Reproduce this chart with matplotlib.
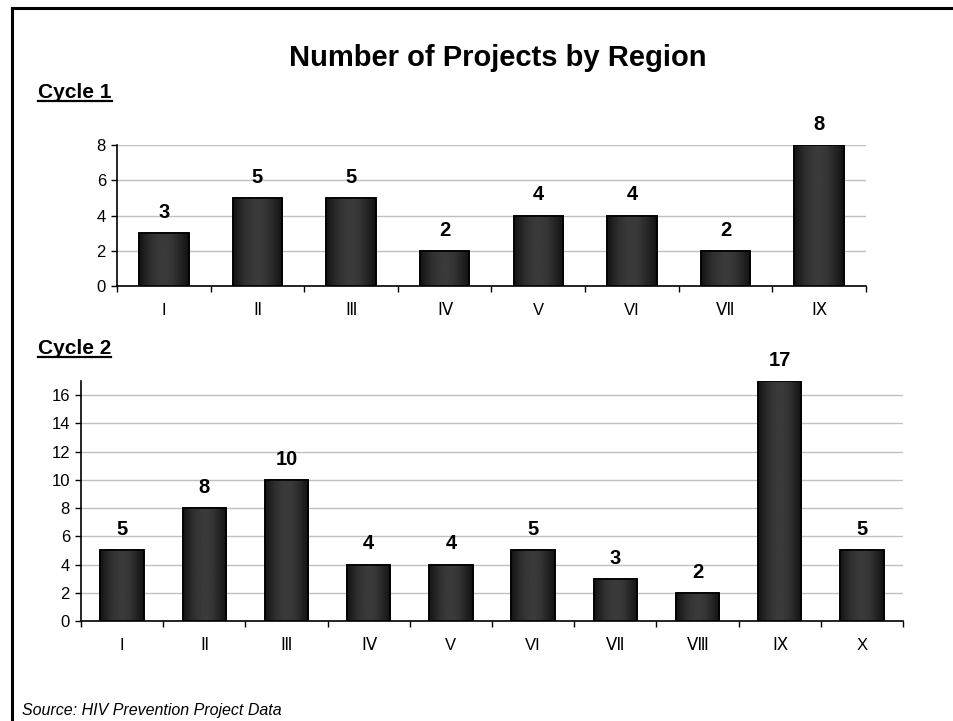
import numpy as np
import matplotlib
matplotlib.use('Agg')
import matplotlib.pyplot as plt
from matplotlib.lines import Line2D
from matplotlib.transforms import IdentityTransform

plt.rcParams['font.family'] = ['Liberation Sans', 'DejaVu Sans']

# data
regions_c1 = ['I', 'Ⅱ', 'Ⅲ', 'Ⅳ', 'V', 'VI', 'Ⅶ', 'Ⅸ']
projects_c1 = [3, 5, 5, 2, 4, 4, 2, 8]
regions_c2 = ['I', 'Ⅱ', 'Ⅲ', 'Ⅳ', 'V', 'VI', 'Ⅶ', 'Ⅷ', 'Ⅸ', 'X']
projects_c2 = [5, 8, 10, 4, 4, 5, 3, 2, 17, 5]

W, H = 954, 721
fig = plt.figure(figsize=(W / 100, H / 100), dpi=100)

# shading across each bar: dark edges, lighter middle
shade = np.array([0.08, 0.13, 0.18, 0.21, 0.23, 0.23, 0.21, 0.17, 0.12, 0.07])
grad = np.interp(np.linspace(0, 1, 64), np.linspace(0, 1, len(shade)), shade)
grad = np.tile(grad, (2, 1))


def bar_panel(rect, cats, vals, ymax, yticks):
    ax = fig.add_axes(rect)
    x = np.arange(len(cats))
    bars = ax.bar(x, vals, width=0.53, color='#222222', edgecolor='black',
                  linewidth=1.2, zorder=3)
    for b in bars:
        x0, y0 = b.get_x(), b.get_y()
        im = ax.imshow(grad, cmap='gray', vmin=0, vmax=1, aspect='auto',
                       extent=(x0, x0 + b.get_width(), y0, y0 + b.get_height()),
                       zorder=3.5, interpolation='bilinear')
        im.set_clip_path(b)
        ax.add_patch(plt.Rectangle((x0, y0), b.get_width(), b.get_height(),
                                   fill=False, edgecolor='black', lw=1.2, zorder=4))
        ax.annotate(f'{int(b.get_height())}', (x0 + b.get_width() / 2, b.get_height()),
                    xytext=(0, 8), textcoords='offset points', ha='center', va='bottom',
                    fontsize=14.5, fontweight='bold', zorder=5)
    ax.set_xlim(-0.5, len(cats) - 0.5)
    ax.set_ylim(0, ymax)
    ax.set_yticks(yticks)
    ax.set_xticks(x)
    ax.set_xticklabels(cats, fontsize=12)
    ax.set_xticks(np.arange(len(cats) + 1) - 0.5, minor=True)
    ax.tick_params(axis='x', which='major', length=0, pad=12)
    ax.tick_params(axis='x', which='minor', length=4.5, width=1, direction='out')
    ax.tick_params(axis='y', length=4, width=1, labelsize=12, pad=4)
    ax.yaxis.grid(True, color='#c0c0c0', lw=1, zorder=0)
    ax.set_axisbelow(True)
    for s in ['top', 'right']:
        ax.spines[s].set_visible(False)
    for s in ['left', 'bottom']:
        ax.spines[s].set_linewidth(1.2)
    return ax


bar_panel([117 / W, 1 - 286 / H, (866 - 117) / W, (286 - 145) / H],
          regions_c1, projects_c1, 8, range(0, 9, 2))
bar_panel([81 / W, 1 - 621 / H, (903 - 81) / W, (621 - 381) / H],
          regions_c2, projects_c2, 17, range(0, 17, 2))

fig.text(498 / W, 1 - 58 / H, 'Number of Projects by Region', ha='center', va='center',
         fontsize=21, fontweight='bold')
heads = [fig.text(38 / W, 1 - 92 / H, 'Cycle 1', ha='left', va='center',
                  fontsize=15, fontweight='bold'),
         fig.text(38 / W, 1 - 348 / H, 'Cycle 2', ha='left', va='center',
                  fontsize=15, fontweight='bold')]
fig.text(22 / W, 1 - 710 / H, 'Source: HIV Prevention Project Data', ha='left',
         va='center', fontsize=11.5, style='italic')

# outer frame (left and top edges only, the rest runs off the page)
fig.add_artist(Line2D([12 / W, 12 / W], [0, 1 - 8 / H], color='black', lw=2.2))
fig.add_artist(Line2D([12 / W, 1], [1 - 8 / H, 1 - 8 / H], color='black', lw=2.2))

# underline the cycle headings
fig.canvas.draw()
for t in heads:
    bb = t.get_window_extent()
    fig.add_artist(Line2D([bb.x0, bb.x1], [bb.y0 + 1, bb.y0 + 1], color='black',
                          lw=1.6, transform=IdentityTransform()))

fig.savefig('out.png', dpi=100)
